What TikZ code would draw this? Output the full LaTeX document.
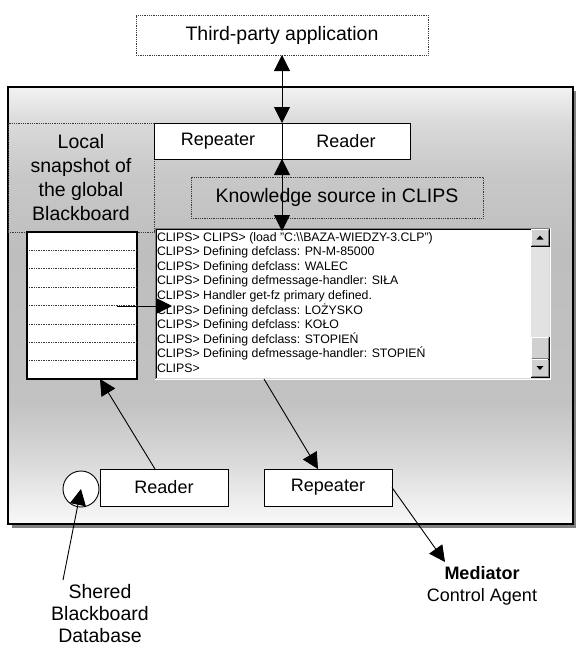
\documentclass[tikz,border=0pt]{standalone}
\usepackage{fontspec}
\setmainfont{Liberation Sans}
\usetikzlibrary{arrows.meta,calc}

\definecolor{shadowgrey}{HTML}{808080}
\definecolor{dotgrey}{HTML}{3A3A3A}
\definecolor{btnface}{HTML}{D0D0D0}
\definecolor{btndark}{HTML}{808080}
\definecolor{trackgrey}{HTML}{E2E2E2}
\definecolor{edgelight}{HTML}{D8D8D8}
\definecolor{pA}{HTML}{F8F8F8}
\definecolor{pB}{HTML}{ECECEC}
\definecolor{pC}{HTML}{D6D6D6}
\definecolor{pD}{HTML}{C2C2C2}
\definecolor{pE}{HTML}{BEBEBE}
\definecolor{pF}{HTML}{C8C8C8}
\definecolor{pG}{HTML}{DADADA}
\definecolor{pH}{HTML}{F2F2F2}

% grey band in the middle of the panel, light at top and bottom
\pgfdeclareverticalshading{panelshade}{100bp}{%
  color(0bp)=(pA); color(25bp)=(pA); color(28bp)=(pB); color(33bp)=(pC);
  color(39bp)=(pD); color(56bp)=(pE); color(65bp)=(pF); color(71bp)=(pG);
  color(75bp)=(pH); color(100bp)=(pH)}

\tikzset{
  every node/.style={inner sep=0pt, outer sep=0pt},
  bigtext/.style={font=\fontsize{19.5}{24}\selectfont, align=center},
  boxtext/.style={font=\fontsize{18}{22}\selectfont},
  whitebox/.style={draw=black, line width=0.9pt, fill=white, boxtext},
  dotbox/.style={draw=dotgrey, densely dotted, line width=0.8pt},
  dotline/.style={draw=dotgrey, densely dotted, line width=0.7pt},
  conn/.style={line width=0.9pt, -{Triangle[length=16pt,width=16pt]}},
  dconn/.style={line width=0.9pt, {Triangle[length=16pt,width=16pt]}-{Triangle[length=16pt,width=16pt]}},
  clipsline/.style={font=\fontsize{12.3}{14.6}\selectfont, anchor=base west},
  sbpart/.style={minimum width=18, fill=btnface},
}

\begin{document}
\begin{tikzpicture}[x=1pt,y=-1pt]
\useasboundingbox (0,0) rectangle (576,646);

% outer application window with its drop shadow
\node[fill=shadowgrey, minimum width=565, minimum height=437] (panelshadow) at (294.5,309.5) {};
\node[shade, shading=panelshade, draw=black, line width=1.2pt,
      minimum width=565, minimum height=437] (panel) at (290.5,305.5) {};

% external application
\node[dotbox, fill=white, bigtext, minimum width=292, minimum height=40] (tpa) at (282,35) {Third-party application};

% local snapshot area
\node[dotbox, bigtext, minimum width=146, minimum height=109] (snap) at (81,177.5)
  {Local\\snapshot of\\the global\\Blackboard};

% repeater / reader pair at the top
\node[whitebox, minimum width=128, minimum height=36] (rep1) at (218,141) {Repeater};
\node[whitebox, minimum width=128, minimum height=36] (rdr1) at (346,141) {Reader};

% knowledge source label
\node[dotbox, bigtext, minimum width=292, minimum height=41] (ks) at (337,197.5) {Knowledge source in CLIPS};

% list of blackboard entries
\node[draw=black, line width=1.3pt, fill=white, minimum width=110, minimum height=147] (list) at (82,305.5) {};
\foreach \k in {1,...,7}
  \draw[dotline] ($(list.north west)+(2,{18.4*\k})$) -- ($(list.north east)+(0,{18.4*\k})$);
\coordinate (la) at (117,306);

% CLIPS console window
\node[fill=white, minimum width=395, minimum height=151] (console) at (352.5,303.5) {};
\draw[btndark, line width=0.8pt] (console.south west) |- (console.north east);
\draw[black, line width=0.8pt] ($(console.south west)+(1,-1)$) |- ($(console.north east)+(-1,1)$);
\draw[white, line width=0.8pt] (console.north east) |- (console.south west);
\draw[edgelight, line width=0.8pt] ($(console.north east)+(-1,1)$) |- ($(console.south west)+(1,-1)$);

\foreach \txt [count=\i] in {
  {CLIPS> CLIPS> (load "C:\textbackslash\textbackslash BAZA-WIEDZY-3.CLP")},
  {CLIPS> Defining defclass: PN-M-85000},
  {CLIPS> Defining defclass: WALEC},
  {CLIPS> Defining defmessage-handler: SIŁA},
  {CLIPS> Handler get-fz primary defined.},
  {CLIPS> Defining defclass: LOŻYSKO},
  {CLIPS> Defining defclass: KOŁO},
  {CLIPS> Defining defclass: STOPIEŃ},
  {CLIPS> Defining defmessage-handler: STOPIEŃ},
  {CLIPS>}}
  \node[clipsline] (cl\i) at (157,{241+14.6*(\i-1)}) {\txt};

% console scroll bar
\node[sbpart, minimum height=17] (sbup) at (540,237.5) {};
\node[fill=trackgrey, minimum width=18, minimum height=91] (sbtrack) at (540,291.5) {};
\node[sbpart, minimum height=22] (sbthumb) at (540,348) {};
\node[sbpart, minimum height=18] (sbdown) at (540,368) {};
\foreach \b in {sbup,sbthumb,sbdown} {
  \draw[white, line width=0.8pt] ($(\b.south west)+(0.5,-1)$) |- ($(\b.north east)+(-1,0.5)$);
  \draw[black, line width=0.8pt] (\b.north east) |- (\b.south west);
  \draw[btndark, line width=0.8pt] ($(\b.north east)+(-1,1)$) |- ($(\b.south west)+(1,-1)$);
}
\fill ($(sbup.center)+(-3.5,2)$) -- ++(7,0) -- ++(-3.5,-4) -- cycle;
\fill ($(sbdown.center)+(-3.5,-2)$) -- ++(7,0) -- ++(-3.5,4) -- cycle;

% blackboard database and agents at the bottom
\node[draw=black, line width=0.9pt, fill=white, circle, minimum size=36] (circ) at (81,489) {};
\node[whitebox, minimum width=128, minimum height=37] (rdr2) at (164,487.5) {Reader};
\node[whitebox, minimum width=128, minimum height=37] (rep2) at (328,487.5) {Repeater};

\node[bigtext, font=\fontsize{19.5}{22}\selectfont] (shdb) at (100,614) {Shered\\Blackboard\\Database};
\node[boxtext, align=center, font=\fontsize{18}{22}\selectfont] (med) at (482,586) {\textbf{Mediator}\\Control Agent};
\coordinate (shtail) at (63,580);
\coordinate (medtip) at (445,562);

% connectors
\draw[dconn] (tpa.south) -- (rep1.north east);
\draw[dconn, shorten >=-3pt] (rep1.south east) -- (rep1.south east |- console.north);
\draw[conn] (la) -- ($(la -| console.west)+(17,0)$);
\draw[conn] ($(rdr2.north)+(-9,0)$) -- ($(list.south)+(18,0)$);
\draw[conn] ($(console.south)+(-88.5,0)$) -- ($(rep2.north)+(-10,0)$);
\draw[conn] (rep2.east) -- (medtip);
\draw[conn] (shtail) -- (circ.center);
\end{tikzpicture}
\end{document}
